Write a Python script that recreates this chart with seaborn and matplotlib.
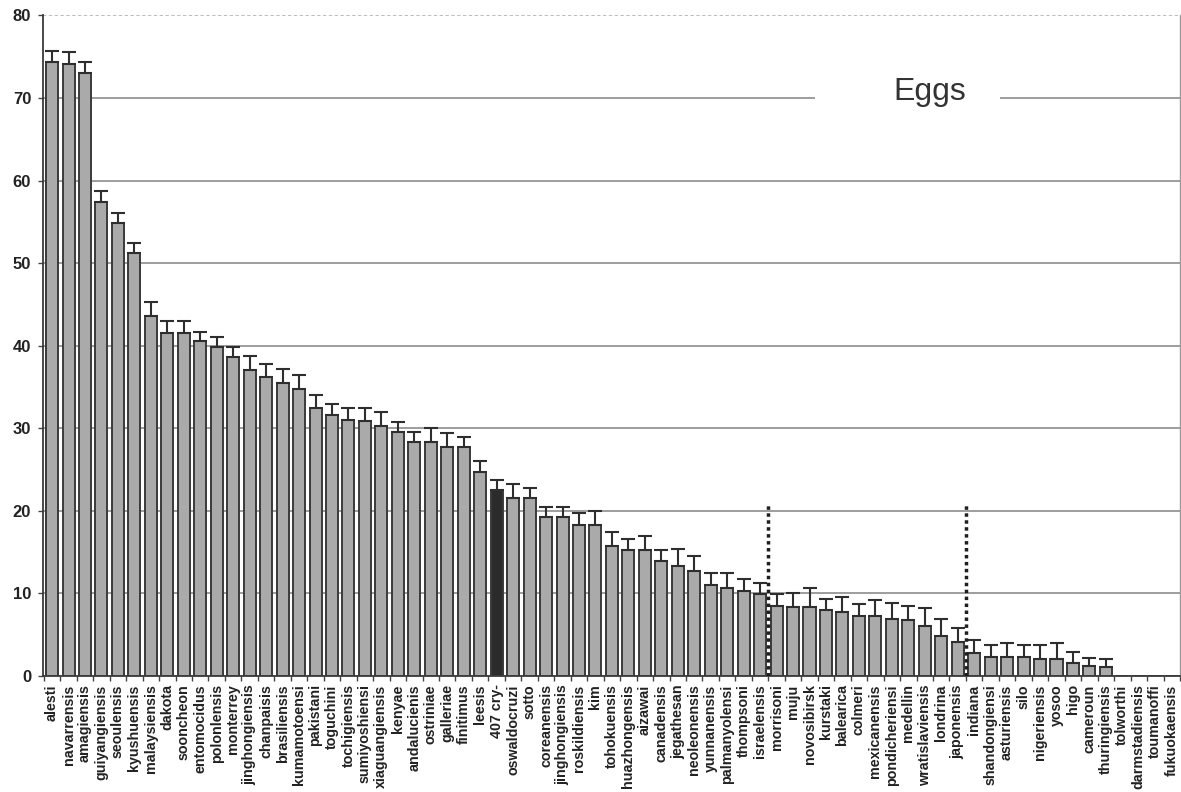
import numpy as np
import pandas as pd
import matplotlib
matplotlib.use("Agg")
import matplotlib.pyplot as plt
import matplotlib.transforms as mtransforms
from matplotlib.patches import Rectangle
import seaborn as sns

# ---------------- data ----------------
serovars = ["alesti", "navarrensis", "amagiensis", "guiyangiensis", "seoulensis",
            "kyushuensis", "malaysiensis", "dakota", "sooncheon", "entomocidus",
            "polonlensis", "monterrey", "jinghongiensis", "chanpaisis", "brasiliensis",
            "kumamotoensi", "pakistani", "toguchini", "tochigiensis", "sumiyoshiensi",
            "xiaguangiensis", "kenyae", "andalucienis", "ostriniae", "galleriae",
            "finitimus", "leesis", "407 cry-", "oswaldocruzi", "sotto",
            "coreanensis", "jinghongiensis", "roskildiensis", "kim", "tohokuensis",
            "huazhongensis", "aizawai", "canadensis", "jegathesan", "neoleonensis",
            "yunnanensis", "palmanyolensi", "thompsoni", "israelensis", "morrisoni",
            "muju", "novosibirsk", "kurstaki", "balearica", "colmeri",
            "mexicanensis", "pondicheriensi", "medellin", "wratislaviensis", "londrina",
            "japonensis", "indiana", "shandongiensi", "asturiensis", "silo",
            "nigeriensis", "yosoo", "higo", "cameroun", "thuringiensis",
            "tolworthi", "darmstadiensis", "toumanoffi", "fukuokaensis"]

eggs = [74.4, 74.1, 73.0, 57.4, 54.9, 51.2, 43.6, 41.6, 41.6, 40.6,
        39.8, 38.6, 37.1, 36.2, 35.5, 34.8, 32.4, 31.6, 31.0, 30.9,
        30.3, 29.6, 28.3, 28.3, 27.7, 27.7, 24.7, 22.5, 21.5, 21.5,
        19.2, 19.2, 18.3, 18.3, 15.7, 15.3, 15.3, 13.9, 13.3, 12.7,
        11.0, 10.7, 10.3, 9.9, 8.5, 8.3, 8.3, 8.0, 7.7, 7.3,
        7.3, 6.9, 6.8, 6.1, 4.8, 4.1, 2.8, 2.3, 2.3, 2.3,
        2.1, 2.0, 1.6, 1.2, 1.1, 0, 0, 0, 0]

err_up = [1.3, 1.5, 1.4, 1.3, 1.2, 1.3, 1.7, 1.4, 1.4, 1.1,
          1.3, 1.3, 1.7, 1.6, 1.7, 1.6, 1.6, 1.4, 1.4, 1.5,
          1.7, 1.2, 1.3, 1.7, 1.7, 1.2, 1.3, 1.2, 1.7, 1.3,
          1.3, 1.3, 1.4, 1.7, 1.7, 1.3, 1.7, 1.4, 2.1, 1.8,
          1.5, 1.8, 1.4, 1.4, 1.4, 1.8, 2.3, 1.3, 1.9, 1.4,
          1.9, 1.9, 1.7, 2.1, 2.1, 1.7, 1.5, 1.5, 1.7, 1.4,
          1.6, 2.0, 1.3, 1.0, 1.0, 0, 0, 0, 0]

highlight = "407 cry-"
marker_after = ["israelensis", "japonensis"]   # dotted separators after these
separator_height = 20.7
title_text = "Eggs"
yticks = list(range(0, 81, 10))

# ---------------- figure ----------------
df = pd.DataFrame({"key": [str(i) for i in range(len(serovars))],
                   "serovar": serovars, "eggs": eggs, "err": err_up})

sns.set_style("white")
plt.rcParams["font.family"] = ["Liberation Sans", "DejaVu Sans"]

fig = plt.figure(figsize=(11.81, 7.92), dpi=100)
ax = fig.add_axes([43 / 1181, 1 - 676 / 792, (1180 - 43) / 1181, (676 - 15.5) / 792])

bar_color = "#aaaaaa"
dark_color = "#2b2b2b"
palette = {k: (dark_color if s == highlight else bar_color)
           for k, s in zip(df["key"], df["serovar"])}

sns.barplot(data=df, x="key", y="eggs", hue="key", palette=palette,
            legend=False, width=0.73, edgecolor="#3a3a3a", linewidth=1.4,
            saturation=1, ax=ax, zorder=3)

# upper error bars
mask = df["eggs"] > 0
xs = np.arange(len(df))[mask.values]
ax.errorbar(xs, df.loc[mask, "eggs"],
            yerr=[np.zeros(mask.sum()), df.loc[mask, "err"]],
            fmt="none", ecolor="#2e2e2e", elinewidth=1.5, capsize=5,
            capthick=1.5, zorder=4)

# axes styling
ax.set_xlim(-0.55, len(df) - 0.5)
ax.set_ylim(0, 80)
ax.set_yticks(yticks)
ax.set_yticklabels([str(t) for t in yticks], fontsize=12, fontweight="bold",
                   color="#222222")
ax.set_xticks(range(len(df)))
ax.set_xticklabels(serovars, rotation=90, fontsize=10.3, fontweight="bold",
                   color="#222222")
ax.set_xticks(np.arange(-0.5, len(df), 1.0), minor=True)
ax.tick_params(axis="x", which="major", length=0, pad=6)
ax.tick_params(axis="x", which="minor", length=3.5, width=1, color="#444444",
               direction="out", bottom=True)
ax.tick_params(axis="y", which="major", length=3.5, width=1, color="#444444",
               direction="out", left=True, pad=5)
ax.set_xlabel("")
ax.set_ylabel("")

ax.set_axisbelow(True)
ax.yaxis.grid(True, color="#8c8c8c", linewidth=1.2)
ax.xaxis.grid(False)
gl = ax.get_ygridlines()
gl[-1].set_linestyle((0, (2, 1.5)))
gl[-1].set_color("#b0b0b0")

for side in ["left", "bottom"]:
    ax.spines[side].set_color("#3a3a3a")
    ax.spines[side].set_linewidth(1.3)
ax.spines["top"].set_visible(False)
ax.spines["right"].set_color("#999999")
ax.spines["right"].set_linewidth(1)

# dotted separators
sep_x = [serovars.index(s) + 0.5 for s in marker_after]
ax.vlines(sep_x, 0, separator_height, colors="#1e1e1e",
          linestyles=(0, (1, 1)), linewidth=2.5, zorder=5)

# "Eggs" label sitting on the 70 gridline
blend = mtransforms.blended_transform_factory(ax.transAxes, ax.transData)
ax.add_patch(Rectangle(((815 - 43) / 1137, 68.8), (1000 - 815) / 1137, 2.4,
                       transform=blend, facecolor="white", edgecolor="none",
                       zorder=1))
ax.text((929.5 - 43) / 1137, 69.75, title_text, transform=blend,
        ha="center", va="baseline", fontsize=23, color="#333333", zorder=6)

fig.savefig("out.png", dpi=100)
